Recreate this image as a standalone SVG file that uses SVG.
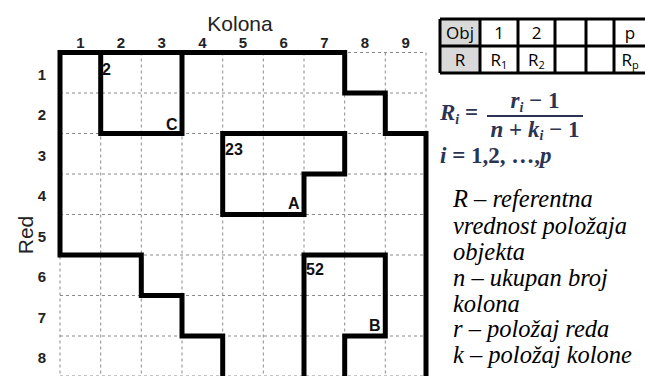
<svg xmlns="http://www.w3.org/2000/svg" width="645" height="376" viewBox="0 0 645 376">
<style>
.grid{stroke:#8a8a8a;stroke-width:1;stroke-dasharray:3 3;fill:none}
.thick{stroke:#000;stroke-width:5;fill:none;stroke-linejoin:miter;stroke-linecap:square}
.lbl{font-family:"Liberation Sans",Arial,sans-serif;font-weight:bold;font-size:15px;fill:#222;text-anchor:middle}
.cell{font-family:"Liberation Sans",Arial,sans-serif;font-weight:bold;font-size:16px;fill:#111}
.ax{font-family:"Liberation Sans",Arial,sans-serif;font-size:21px;fill:#222}
.tb{font-family:"Open Sans","Liberation Sans",sans-serif;font-size:17px;fill:#000;text-anchor:middle}
.tline{stroke:#000;stroke-width:3;fill:none}
.fm{font-family:"Liberation Serif","DejaVu Serif",serif;font-size:23px;fill:#2b3452;font-weight:bold}
.it{font-family:"Liberation Serif","Times New Roman",serif;font-style:italic;font-size:24.5px;fill:#000}
</style>
<rect width="645" height="376" fill="#fff"/>
<g id="axes">
<text class="ax" x="240" y="31" text-anchor="middle">Kolona</text>
<text class="ax" transform="translate(33,235) rotate(-90)" text-anchor="middle" font-size="22">Red</text>
<g id="col-labels">
<text class="lbl" x="80.3" y="48">1</text>
<text class="lbl" x="121" y="48">2</text>
<text class="lbl" x="161.7" y="48">3</text>
<text class="lbl" x="202.3" y="48">4</text>
<text class="lbl" x="243" y="48">5</text>
<text class="lbl" x="283.7" y="48">6</text>
<text class="lbl" x="324.3" y="48">7</text>
<text class="lbl" x="365" y="48">8</text>
<text class="lbl" x="405.7" y="48">9</text>
</g>
<g id="row-labels">
<text class="lbl" x="42" y="80">1</text>
<text class="lbl" x="42" y="120">2</text>
<text class="lbl" x="42" y="161">3</text>
<text class="lbl" x="42" y="201">4</text>
<text class="lbl" x="42" y="242">5</text>
<text class="lbl" x="42" y="282">6</text>
<text class="lbl" x="42" y="323">7</text>
<text class="lbl" x="42" y="363">8</text>
</g>
</g>
<g id="grid">
<path class="grid" d="M60,52.5V376 M100.7,52.5V376 M141.3,52.5V376 M182,52.5V376 M222.7,52.5V376 M263.3,52.5V376 M304,52.5V376 M344.7,52.5V376 M385.3,52.5V376 M426,52.5V376"/>
<path class="grid" d="M60,52.5H426 M60,93H426 M60,133.5H426 M60,174H426 M60,214.5H426 M60,255H426 M60,295.5H426 M60,336H426 M60,376H426"/>
</g>
<g id="outline">
<path class="thick" d="M222.7,380 V336 H182 V295.5 H141.3 V255 H60 V52.5 H344.7 V93 H385.3 V133.5 H426 V380"/>
</g>
<g id="object-C">
<path class="thick" d="M100.7,52.5 V133.5 H182 V52.5"/>
<text class="cell" x="102" y="75">2</text>
<text class="cell" x="166" y="130">C</text>
</g>
<g id="object-A">
<path class="thick" d="M222.7,133.5 H344.7 V174 H304 V214.5 H222.7 Z"/>
<text class="cell" x="225" y="155">23</text>
<text class="cell" x="288" y="209">A</text>
</g>
<g id="object-B">
<path class="thick" d="M304,380 V255 H385.3 V336 H344.7 V380"/>
<text class="cell" x="306" y="275">52</text>
<text class="cell" x="369" y="331">B</text>
</g>
<g id="table">
<rect x="440" y="19" width="40" height="54" fill="#d9d9d9"/>
<path class="tline" d="M440,19H646 M440,46H646 M440,73H646 M440,19V73 M480,19V73 M518,19V73 M555,19V73 M586,19V73 M614,19V73"/>
<text class="tb" x="460" y="39">Obj</text>
<text class="tb" x="499" y="39">1</text>
<text class="tb" x="536.5" y="39">2</text>
<text class="tb" x="630" y="39">p</text>
<text class="tb" x="460" y="66">R</text>
<text class="tb" x="499" y="66">R<tspan font-size="11" dy="3">1</tspan></text>
<text class="tb" x="536.5" y="66">R<tspan font-size="11" dy="3">2</tspan></text>
<text class="tb" x="630" y="66">R<tspan font-size="11" dy="3">p</tspan></text>
</g>
<g id="formula">
<text class="fm" x="440" y="120"><tspan font-style="italic">R</tspan><tspan font-size="14" dy="4" font-style="italic">i</tspan><tspan dy="-4"> =</tspan></text>
<text class="fm" x="535" y="108" text-anchor="middle"><tspan font-style="italic">r</tspan><tspan font-size="14" dy="4" font-style="italic">i</tspan><tspan dy="-4"> − 1</tspan></text>
<line x1="487" y1="116" x2="583" y2="116" stroke="#2b3452" stroke-width="2"/>
<text class="fm" x="535" y="137" text-anchor="middle"><tspan font-style="italic">n</tspan> + <tspan font-style="italic">k</tspan><tspan font-size="14" dy="3" font-style="italic">i</tspan><tspan dy="-3"> − 1</tspan></text>
<text class="fm" x="440" y="163"><tspan font-style="italic">i</tspan> = 1,2, …,<tspan font-style="italic">p</tspan></text>
</g>
<g id="legend">
<text class="it" x="453" y="207">R – referentna</text>
<text class="it" x="453" y="234">vrednost položaja</text>
<text class="it" x="453" y="260">objekta</text>
<text class="it" x="453" y="286">n – ukupan broj</text>
<text class="it" x="453" y="312">kolona</text>
<text class="it" x="453" y="337">r – položaj reda</text>
<text class="it" x="453" y="363">k – položaj kolone</text>
</g>
</svg>
